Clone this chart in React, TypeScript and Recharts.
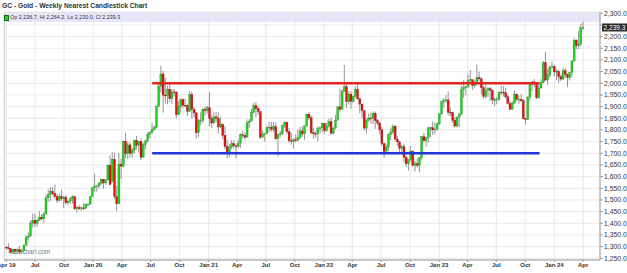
import React from 'react';
import { ComposedChart, Bar, XAxis, YAxis, CartesianGrid, ReferenceLine } from 'recharts';

const TITLE = 'GC - Gold - Weekly Nearest Candlestick Chart';
const firstWeek = '2019-04-01';

// weekly [open, high, low, close]
const ohlc2019: number[][] = [
  [1298,1301,1286,1295],[1295,1315,1288,1291],[1291,1293,1271,1276],[1276,1290,1267,1288],[1288,1289,1268,1281],
  [1281,1292,1277,1287],[1287,1303,1274,1277],[1277,1288,1270,1284],[1284,1310,1279,1306],[1306,1348,1304,1341],
  [1341,1361,1328,1345],[1345,1412,1343,1400],[1400,1442,1382,1413],[1413,1441,1385,1400],[1400,1420,1386,1412],
  [1412,1453,1410,1426],[1426,1438,1413,1419],[1419,1448,1401,1440],[1440,1524,1437,1509],[1509,1546,1491,1523],
  [1523,1555,1495,1537],[1537,1555,1521,1529],[1529,1566,1506,1515],[1515,1526,1487,1499],[1499,1527,1493,1515],
  [1515,1543,1496,1506],[1506,1520,1465,1512],[1512,1522,1480,1488],[1488,1500,1478,1494],[1494,1512,1483,1505],
  [1505,1520,1485,1514],[1514,1516,1456,1462],[1462,1475,1445,1468],[1468,1478,1456,1463],[1463,1471,1453,1466],
  [1466,1486,1458,1465],[1465,1484,1460,1481],[1481,1485,1473,1482],[1482,1516,1480,1515],[1515,1555,1513,1553],
];
const ohlc2020: number[][] = [
  [1553,1613,1536,1560],[1560,1566,1536,1560],[1560,1577,1550,1571],[1571,1592,1565,1589],[1589,1590,1548,1573],
  [1573,1590,1565,1586],[1586,1652,1584,1649],[1649,1691,1563,1566],[1580,1704,1576,1674],[1674,1703,1504,1516],
  [1516,1560,1451,1484],[1484,1702,1482,1654],[1654,1676,1591,1645],[1645,1755,1641,1752],[1752,1788,1680,1698],
  [1698,1748,1675,1736],[1736,1747,1682,1700],[1700,1723,1683,1714],[1714,1757,1700,1756],[1756,1775,1716,1735],
  [1735,1753,1703,1751],[1751,1763,1671,1683],[1683,1746,1681,1737],[1737,1757,1718,1753],[1753,1789,1747,1781],
  [1781,1795,1764,1790],[1790,1829,1781,1801],[1801,1820,1797,1810],[1810,1904,1808,1902],[1902,2005,1900,1986],
  [1986,2075,1960,2040],[2040,2052,1874,1949],[1949,2024,1913,1947],[1947,1990,1910,1975],[1975,1999,1920,1934],
  [1934,1976,1912,1963],[1963,1975,1944,1962],[1962,1967,1851,1866],[1866,1923,1862,1900],[1900,1935,1874,1930],
  [1930,1936,1893,1906],[1906,1933,1896,1905],[1905,1910,1860,1880],[1880,1966,1876,1952],[1952,1965,1850,1889],
  [1889,1898,1853,1873],[1873,1877,1764,1788],[1788,1847,1769,1839],[1839,1876,1820,1840],[1840,1895,1830,1889],
  [1889,1900,1862,1883],[1883,1903,1870,1895],
];
const ohlc2021: number[][] = [
  [1895,1962,1816,1850],[1850,1864,1808,1830],[1830,1875,1827,1856],[1856,1876,1835,1850],[1850,1876,1785,1813],
  [1813,1855,1808,1824],[1824,1828,1760,1777],[1777,1815,1717,1729],[1729,1759,1677,1698],[1698,1740,1683,1727],
  [1727,1756,1719,1741],[1741,1756,1720,1732],[1732,1737,1678,1729],[1729,1759,1723,1744],[1744,1785,1724,1780],
  [1780,1797,1763,1777],[1777,1790,1756,1769],[1769,1845,1768,1831],[1831,1846,1808,1838],[1838,1891,1838,1876],
  [1876,1916,1870,1905],[1905,1919,1855,1892],[1892,1903,1865,1879],[1879,1880,1761,1769],[1769,1797,1767,1781],
  [1781,1787,1750,1784],[1784,1818,1784,1810],[1810,1834,1791,1812],[1812,1834,1793,1802],[1802,1833,1790,1814],
  [1814,1832,1755,1763],[1763,1784,1687,1780],[1780,1796,1770,1784],[1784,1822,1778,1819],[1819,1836,1808,1833],
  [1833,1835,1782,1792],[1792,1809,1745,1754],[1754,1787,1737,1752],[1752,1763,1721,1758],[1758,1781,1746,1757],
  [1757,1801,1750,1768],[1768,1814,1760,1796],[1796,1813,1770,1783],[1783,1818,1758,1818],[1818,1870,1815,1868],
  [1868,1877,1843,1852],[1852,1862,1781,1788],[1788,1808,1762,1784],[1784,1793,1767,1783],[1783,1815,1753,1805],
  [1805,1816,1787,1809],[1809,1831,1790,1828],
];
const ohlc2022: number[][] = [
  [1828,1831,1782,1797],[1797,1830,1793,1817],[1817,1848,1809,1836],[1836,1853,1781,1786],[1786,1812,1781,1808],
  [1808,1865,1805,1842],[1842,1902,1840,1899],[1899,1976,1878,1889],[1889,1974,1886,1966],[1966,2078,1964,1985],
  [1985,1993,1895,1921],[1921,1966,1910,1954],[1954,1966,1890,1923],[1923,1948,1915,1945],[1945,1988,1939,1974],
  [1974,2003,1930,1934],[1934,1937,1872,1911],[1911,1911,1850,1882],[1882,1884,1797,1808],[1808,1850,1785,1842],
  [1842,1870,1836,1851],[1851,1874,1828,1850],[1850,1880,1825,1871],[1871,1879,1805,1840],[1840,1847,1820,1830],
  [1830,1834,1784,1801],[1801,1813,1732,1742],[1742,1745,1681,1708],[1708,1739,1698,1727],[1727,1784,1711,1781],
  [1781,1806,1756,1791],[1791,1824,1781,1816],[1816,1822,1755,1761],[1761,1773,1733,1749],[1749,1751,1700,1722],
  [1722,1736,1697,1728],[1728,1740,1660,1683],[1683,1691,1642,1655],[1655,1675,1626,1672],[1672,1730,1666,1709],
  [1709,1713,1643,1649],[1649,1667,1621,1656],[1656,1678,1638,1648],[1648,1684,1618,1681],[1681,1774,1669,1771],
  [1771,1787,1748,1754],[1754,1770,1727,1768],[1768,1815,1745,1809],[1809,1812,1769,1810],[1810,1836,1778,1800],
  [1800,1833,1782,1804],[1804,1833,1797,1826],
];
const ohlc2023: number[][] = [
  [1826,1871,1822,1869],[1869,1923,1865,1921],[1921,1937,1896,1928],[1928,1949,1916,1929],[1929,1965,1862,1876],
  [1876,1897,1860,1874],[1874,1878,1830,1842],[1842,1855,1810,1817],[1817,1858,1810,1855],[1855,1875,1813,1868],
  [1868,1991,1865,1973],[1973,2014,1937,1983],[1983,1990,1949,1986],[1986,2038,1979,2011],[2011,2058,2007,2015],
  [2015,2017,1973,1990],[1990,2015,1978,1999],[1999,2080,1990,2025],[2025,2049,2009,2019],[2019,2025,1952,1981],
  [1981,1988,1937,1944],[1944,1995,1935,1970],[1970,1984,1941,1977],[1977,1985,1924,1970],[1970,1975,1912,1929],
  [1929,1939,1903,1929],[1929,1942,1910,1932],[1932,1966,1925,1961],[1961,1989,1950,1962],[1962,1987,1943,1960],
  [1960,1982,1935,1942],[1942,1952,1910,1914],[1914,1925,1885,1889],[1889,1924,1886,1915],[1915,1968,1914,1953],
  [1953,1958,1923,1932],[1932,1949,1912,1932],[1932,1953,1920,1925],[1925,1934,1846,1848],[1848,1852,1823,1845],
  [1845,1945,1843,1941],[1941,1997,1923,1994],[1994,2009,1966,2006],[2006,2019,1984,1999],[1999,1999,1932,1938],
  [1938,1996,1935,1980],[1980,2017,1977,2003],[2003,2095,2000,2089],[2089,2135,2010,2014],[2014,2062,1993,2035],
  [2035,2078,2024,2069],[2069,2093,2063,2072],
];
const ohlc2024: number[][] = [
  [2072,2079,2030,2049],[2049,2062,2013,2051],[2051,2058,2002,2029],[2029,2039,2010,2018],[2018,2068,2015,2054],
  [2054,2065,2025,2038],[2038,2041,1984,2024],[2024,2050,2012,2046],[2046,2097,2025,2096],[2096,2195,2092,2185],
  [2185,2189,2146,2161],[2161,2225,2146,2168],[2168,2256,2158,2238],[2236.7,2264.2,2230.0,2239.3],
];

const yTicks = [1250,1300,1350,1400,1450,1500,1550,1600,1650,1700,1750,1800,1850,1900,1950,2000,2050,2100,2150,2200,2250,2300];
const xTickDates = ['2019-04-01','2019-07-01','2019-10-01','2020-01-01','2020-04-01','2020-07-01','2020-10-01','2021-01-01','2021-04-01','2021-07-01','2021-10-01','2022-01-01','2022-04-01','2022-07-01','2022-10-01','2023-01-01','2023-04-01','2023-07-01','2023-10-01','2024-01-01','2024-04-01'];
const xTickLabels = ['Apr 19','Jul','Oct','Jan 20','Apr','Jul','Oct','Jan 21','Apr','Jul','Oct','Jan 22','Apr','Jul','Oct','Jan 23','Apr','Jul','Oct','Jan 24','Apr'];
const resistance = { from: '2020-07-06', to: '2023-11-15', level: 2000 };
const support = { from: '2020-07-06', to: '2023-11-15', level: 1700 };

const DAY = 86400000;
const dayOf = (s: string) => Math.round((Date.parse(s) - Date.parse(firstWeek)) / DAY);

const allWeeks = [...ohlc2019, ...ohlc2020, ...ohlc2021, ...ohlc2022, ...ohlc2023, ...ohlc2024];
const data = allWeeks.map((c, i) => ({ t: i * 7, open: c[0], high: c[1], low: c[2], close: c[3] }));
const last = data[data.length - 1];
const xTicks = xTickDates.map(dayOf);
const tickLabelMap: Record<number, string> = {};
xTicks.forEach((t, i) => { tickLabelMap[t] = xTickLabels[i]; });

const GREEN = '#22d022';
const RED = '#e01212';
const fmt = (v: number) => v.toLocaleString('en-US', { minimumFractionDigits: 1, maximumFractionDigits: 1 });
// the last-price tag covers the axis label right next to it
const yTickFmt = (v: number) => (Math.abs(v - last.close) < 25 ? '' : fmt(v));

const Candle = (props: any) => {
  const { x, y, width, height, payload } = props;
  if (!payload || x == null || y == null) return null;
  const { open, high, low, close } = payload;
  const top = Math.min(y, y + height);
  const h = Math.abs(height);
  const cx = x + width / 2;
  const k = high > low ? h / (high - low) : 0;
  const yO = top + (high - open) * k;
  const yC = top + (high - close) * k;
  const up = close >= open;
  const bTop = Math.min(yO, yC);
  const bH = Math.max(Math.abs(yO - yC), 0.8);
  return (
    <g>
      <line x1={cx} x2={cx} y1={top} y2={top + h} stroke="#666" strokeWidth={0.7} />
      <rect x={cx - 1} y={bTop} width={2} height={bH} fill={up ? GREEN : RED} stroke={up ? '#178a17' : '#8a1010'} strokeWidth={0.3} />
    </g>
  );
};

const PriceTag = (p: any) => {
  const vb = p.viewBox || {};
  const x = (vb.x || 0) + (vb.width || 0);
  const y = vb.y || 0;
  return (
    <g>
      <rect x={x + 2} y={y - 4} width={25} height={8} fill="#2a2a2a" />
      <text x={x + 3.5} y={y + 2.3} fontSize={6.6} fill="#ffffff" fontFamily="Liberation Sans, Arial, sans-serif">{fmt(last.close)}</text>
    </g>
  );
};

export default function App() {
  const font = 'Liberation Sans, Arial, sans-serif';
  return (
    <div style={{ position: 'absolute', left: 0, top: 0, width: 627, height: 273, background: '#ffffff', fontFamily: font, overflow: 'hidden' }}>
      <div style={{ position: 'absolute', left: 2, top: 2, fontSize: 6.7, fontWeight: 'bold', color: '#333', whiteSpace: 'nowrap', lineHeight: '8px' }}>{TITLE}</div>
      <div style={{ position: 'absolute', left: 4, top: 12, width: 596, height: 9.5, background: '#e7e5fb' }} />
      <div style={{ position: 'absolute', left: 4, top: 12, width: 0, height: 248, borderLeft: '1px solid #c4c4c4' }} />
      <div style={{ position: 'absolute', left: 8, top: 248, fontSize: 6.3, color: '#777', whiteSpace: 'nowrap', lineHeight: '8px' }}>©Barchart.com</div>
      <div style={{ position: 'absolute', left: 0, top: 0 }}>
        <ComposedChart width={627} height={273} data={data} margin={{ top: 12, right: 0, bottom: 0, left: 4 }}>
          <CartesianGrid stroke="#e4e4e4" strokeWidth={0.8} />
          <XAxis
            type="number"
            dataKey="t"
            domain={[-7.3, 1880.6]}
            allowDataOverflow
            ticks={xTicks}
            interval={0}
            tickFormatter={(v: number) => tickLabelMap[v] ?? ''}
            height={13}
            tickSize={2}
            tickMargin={1}
            axisLine={{ stroke: '#9a9a9a' }}
            tickLine={{ stroke: '#9a9a9a' }}
            tick={{ fontSize: 6, fontWeight: 'bold', fill: '#333', fontFamily: font }}
          />
          <YAxis
            orientation="right"
            type="number"
            domain={[1242.7, 2305.6]}
            allowDataOverflow
            ticks={yTicks}
            interval={0}
            tickFormatter={yTickFmt}
            width={27}
            tickSize={3}
            tickMargin={1}
            axisLine={{ stroke: '#9a9a9a' }}
            tickLine={{ stroke: '#9a9a9a' }}
            tick={{ fontSize: 6.8, fill: '#333', fontFamily: font, textAnchor: 'start' }}
          />
          <ReferenceLine
            segment={[{ x: dayOf(resistance.from), y: resistance.level }, { x: dayOf(resistance.to), y: resistance.level }]}
            stroke="#e8231f"
            strokeWidth={2.5}
          />
          <ReferenceLine
            segment={[{ x: dayOf(support.from), y: support.level }, { x: dayOf(support.to), y: support.level }]}
            stroke="#2235d8"
            strokeWidth={2.5}
          />
          <Bar
            dataKey={(d: any) => [d.low, d.high]}
            shape={Candle}
            barSize={2}
            isAnimationActive={false}
          />
          <ReferenceLine y={last.close} stroke="none" label={PriceTag} />
        </ComposedChart>
      </div>
      <div style={{ position: 'absolute', left: 3.5, top: 15, width: 3.5, height: 3.5, background: GREEN, border: '0.5px solid #1a6a1a' }} />
      <div style={{ position: 'absolute', left: 10, top: 13.5, fontSize: 5.4, color: '#333', whiteSpace: 'nowrap', lineHeight: '7px' }}>
        {`Op ${fmt(last.open)}, Hi ${fmt(last.high)}, Lo ${fmt(last.low)}, Cl ${fmt(last.close)}`}
      </div>
    </div>
  );
}
